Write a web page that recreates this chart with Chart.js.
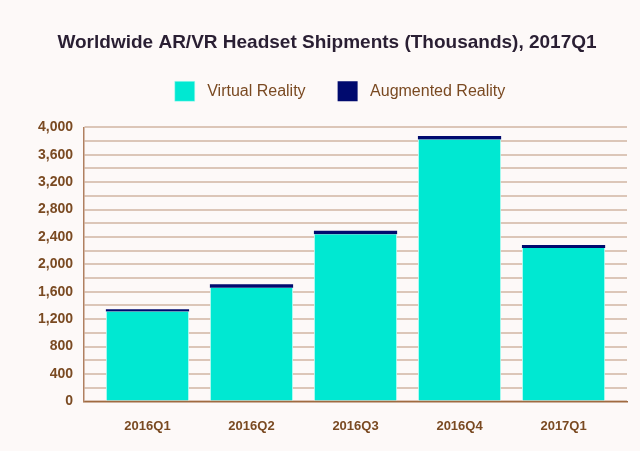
<!DOCTYPE html>
<html>
<head>
<meta charset="utf-8">
<script src="https://cdn.jsdelivr.net/npm/chart.js@4"></script>
<style>
  html, body { margin: 0; padding: 0; background: #fdf9f8; }
  #wrap { width: 640px; height: 451px; }
</style>
</head>
<body>
<div id="wrap"><canvas id="chart"></canvas></div>
<script>
const quarters = ['2016Q1', '2016Q2', '2016Q3', '2016Q4', '2017Q1'];
const virtualReality = [1312, 1660, 2438, 3822, 2240];
const augmentedReality = [33, 48, 53, 52, 44];

const brown = '#7a4a22';

// category scale leaves a wider gap at both ends than chart.js does,
// and the legend sits a little right of centre
const widenX = {
    id: 'widenX',
    afterLayout(chart) {
        const x = chart.scales.x;
        x._startValue = -0.61;
        x._valueRange = quarters.length - 1 + 1.22;
        chart.legend.left += 13;
        chart.legend.right += 13;
    }
};

// extra room between the legend and the plot
const legendGap = {
    id: 'legendGap',
    beforeLayout(chart) {
        const legend = chart.legend;
        if (!legend || legend._gapPatched) return;
        const fit = legend.fit;
        legend.fit = function () {
            fit.call(this);
            this.height += 16;
        };
        legend._gapPatched = true;
    }
};

const ctx = document.querySelector('#chart').getContext('2d');

new Chart(ctx, {
    type: 'bar',
    data: {
        labels: quarters,
        datasets: [
            {
                label: 'Virtual Reality',
                data: virtualReality,
                backgroundColor: '#00e8d2',
                borderColor: '#b8fbf2',
                borderWidth: {left: 1, right: 1}
            },
            {
                label: 'Augmented Reality',
                data: augmentedReality,
                backgroundColor: '#000a6e'
            }
        ]
    },
    options: {
        responsive: true,
        maintainAspectRatio: false,
        animation: false,
        layout: {padding: {left: 27, right: 13, top: 0, bottom: 0}},
        datasets: {bar: {categoryPercentage: 1, barPercentage: 0.8}},
        plugins: {
            title: {
                display: true,
                text: 'Worldwide AR/VR Headset Shipments (Thousands), 2017Q1',
                color: '#2a1f33',
                font: {family: 'Liberation Sans', size: 19, weight: 'bold', lineHeight: 0.7},
                padding: {top: 36, bottom: 0}
            },
            legend: {
                labels: {
                    color: brown,
                    font: {family: 'Liberation Sans', size: 16},
                    boxWidth: 20,
                    boxHeight: 20,
                    padding: 32,
                    generateLabels: chart =>
                        Chart.defaults.plugins.legend.labels.generateLabels(chart)
                            .map(item => ({...item, text: ' ' + item.text}))
                }
            },
            tooltip: {enabled: false}
        },
        scales: {
            x: {
                stacked: true,
                grid: {display: false, drawTicks: false},
                border: {color: '#a06a40', width: 1.5},
                ticks: {
                    color: brown,
                    font: {family: 'Liberation Sans', size: 13, weight: 'bold'},
                    padding: 17
                }
            },
            y: {
                stacked: true,
                min: 0,
                max: 4000,
                border: {color: '#b08060', width: 1.5},
                grid: {color: '#dcc6b8', lineWidth: 2, drawTicks: false},
                ticks: {
                    stepSize: 200,
                    autoSkip: false,
                    color: brown,
                    font: {family: 'Liberation Sans', size: 14, weight: 'bold'},
                    padding: 11,
                    callback: v => v % 400 === 0 ? v.toLocaleString('en-US') : ''
                }
            }
        }
    },
    plugins: [widenX, legendGap]
});
</script>
</body>
</html>
